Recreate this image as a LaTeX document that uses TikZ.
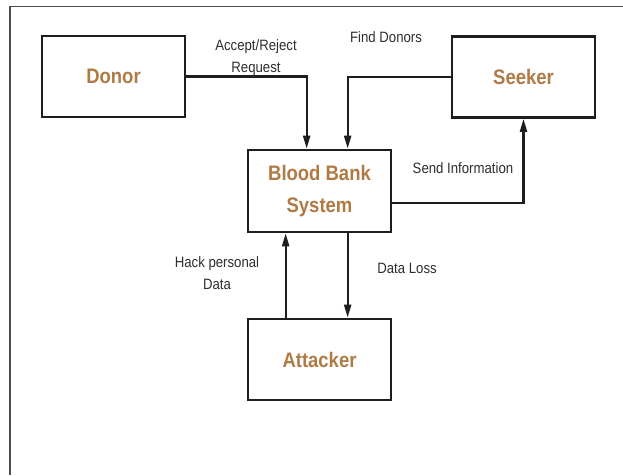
\documentclass[tikz,border=0pt]{standalone}
\usepackage{fontspec}
\setmainfont{Liberation Sans}[FakeStretch=0.88]
\usetikzlibrary{arrows.meta,calc}
\definecolor{titlec}{HTML}{B07A45}
\definecolor{labc}{HTML}{2E2E2E}
\definecolor{linec}{HTML}{1E1E1E}
\begin{document}
\begin{tikzpicture}[x=1pt,y=-1pt,
  box/.style={draw=linec,line width=2.7pt,minimum width=143pt,minimum height=81pt,
    inner sep=0pt,align=center,text=titlec,font=\fontsize{21}{32}\selectfont\bfseries},
  lab/.style={text=labc,align=center,inner sep=0pt,font=\fontsize{15}{22}\selectfont},
  arr/.style={draw=linec,line width=2.2pt,-{Triangle[length=13pt,width=7pt]}}]
\useasboundingbox (0,0) rectangle (623,475);
\fill[white] (0,0) rectangle (623,475);
\draw[gray!60!black,line width=1.2pt] (10,475) -- (10,6.5) -- (623,6.5);
\node[box] (donor) at (113.5,76.5) {Donor};
\node[box] (seeker) at (523.5,77) {Seeker};
\node[box,minimum height=82pt] (bb) at (319.5,191) {Blood Bank\\System};
\node[box] (att) at (319.5,359.5) {Attacker};
\coordinate (bbA) at ($(bb.north west)+(60,0)$);
\coordinate (bbB) at ($(bb.north west)+(101,0)$);
\coordinate (bbC) at ($(bb.east)+(0,12)$);
\coordinate (atA) at ($(att.north west)+(39,0)$);
\coordinate (atB) at ($(att.north west)+(101,0)$);
\draw[arr] (donor.east) -| (bbA);
\draw[arr] (seeker.west) -| (bbB);
\draw[arr] (bbC) -| (seeker.south);
\draw[arr] (atA) -- (atA |- bb.south);
\draw[arr] (atB |- bb.south) -- (atB);
\node[lab] (l1) at (256,58) {Accept/Reject\\Request};
\node[lab] (l2) at (386,37) {Find Donors};
\node[lab] (l3) at (463,168) {Send Information};
\node[lab] (l4) at (217,273) {Hack personal\\Data};
\node[lab] (l5) at (407,268) {Data Loss};
\end{tikzpicture}
\end{document}
